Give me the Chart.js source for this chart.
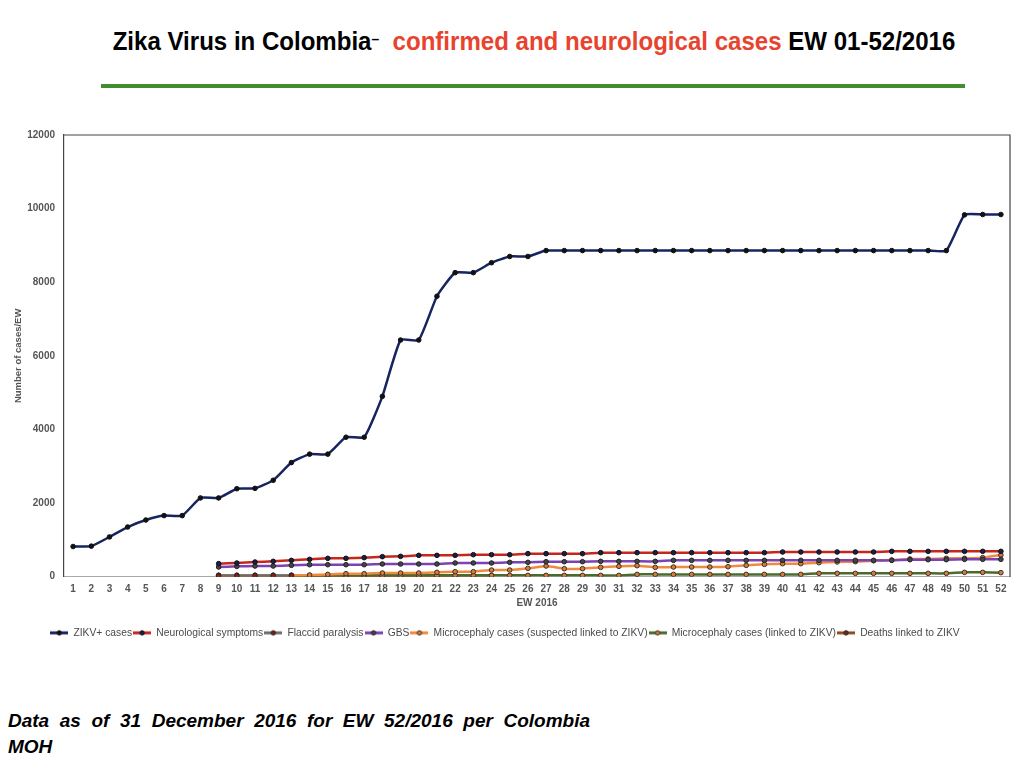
<!DOCTYPE html>
<html>
<head>
<meta charset="utf-8">
<script src="https://cdn.jsdelivr.net/npm/chart.js@4.4.1/dist/chart.umd.min.js"></script>
<style>
  body { margin: 0; background: #fff; width: 1024px; height: 768px; position: relative; overflow: hidden; font-family: "Liberation Sans", Arial, sans-serif; }
  #title { position: absolute; top: 26px; left: 0; width: 1068px; text-align: center; font-weight: bold; font-size: 26px; color: #000; transform: scaleX(0.925); transform-origin: 534px 0; white-space: nowrap; }
  #title .red { color: #e8432e; }
  #rule { position: absolute; top: 84px; left: 101px; width: 864px; height: 4px; background: #3f8f2f; }
  #box { position: absolute; top: 120px; left: 0; width: 1024px; height: 530px; }
  #note { position: absolute; top: 708px; left: 8px; width: 582px; font-weight: bold; font-style: italic; font-size: 19px; line-height: 26px; color: #000; }
  #note .l1 { text-align: justify; text-align-last: justify; }
</style>
</head>
<body>
<div id="title">Zika Virus in Colombia<span style="font-size:15px;vertical-align:6px">&#8211;</span>&nbsp; <span class="red">confirmed and neurological cases</span> EW 01-52/2016</div>
<div id="rule"></div>
<div id="box"><canvas id="zikaGrafico"></canvas></div>
<div id="note"><div class="l1">Data as of 31 December 2016 for EW 52/2016 per Colombia</div><div>MOH</div></div>
<script>
// SEMANAS EPIDEMIOLOGICAS
const semanas = ['1','2','3','4','5','6','7','8','9','10','11','12','13','14','15','16','17','18','19','20',
    '21','22','23','24','25','26','27','28','29','30','31','32','33','34','35','36','37','38','39','40',
    '41','42','43','44','45','46','47','48','49','50','51','52'];

const yTicks = [0, 2000, 4000, 6000, 8000, 10000, 12000];

const zikvCasos = [820, 830, 1080, 1350, 1540, 1660, 1660, 2140, 2140, 2390, 2400, 2620, 3100, 3330, 3330, 3790, 3790, 4900, 6430, 6430,
    7620, 8260, 8260, 8530, 8700, 8700, 8860, 8860, 8860, 8860, 8860, 8860, 8860, 8860, 8860, 8860, 8860, 8860, 8860, 8860,
    8860, 8860, 8860, 8860, 8860, 8860, 8860, 8860, 8860, 9830, 9840, 9840];

const neuroSintomas = [null, null, null, null, null, null, null, null, 354, 372, 399, 417, 444, 471, 499, 499, 517, 544, 553, 580,
    580, 580, 598, 598, 598, 626, 626, 626, 626, 653, 653, 653, 653, 653, 653, 653, 653, 653, 653, 671,
    671, 671, 671, 671, 671, 689, 689, 689, 689, 689, 689, 689];

const paralisiaFlacida = [null, null, null, null, null, null, null, null, 30, 30, 32, 32, 35];

const gbs = [null, null, null, null, null, null, null, null, 263, 281, 290, 290, 308, 326, 326, 326, 326, 345, 345, 345,
    345, 372, 372, 372, 390, 390, 408, 408, 408, 417, 417, 417, 417, 444, 444, 444, 444, 444, 444, 444,
    444, 444, 444, 444, 444, 444, 462, 462, 462, 471, 471, 471];

const microSuspeita = [null, null, null, null, null, null, null, null, 40, 40, 40, 40, 40, 45, 63, 82, 82, 100, 100, 100,
    118, 136, 136, 181, 181, 227, 290, 218, 218, 254, 281, 299, 254, 263, 263, 263, 272, 308, 335, 354,
    354, 381, 399, 408, 435, 453, 481, 481, 499, 499, 517, 589];

const microConfirmada = [null, null, null, null, null, null, null, null, 36, 36, 36, 36, 36, 36, 36, 36, 36, 36, 36, 36,
    36, 36, 36, 36, 36, 36, 36, 36, 36, 36, 36, 63, 63, 63, 63, 63, 63, 63, 63, 63,
    63, 91, 91, 91, 91, 91, 91, 91, 91, 118, 118, 110];

const mortes = [null, null, null, null, null, null, null, null, 15, 15, 18, 18, 20, 20, 22, 22, 25, 25, 25, 28,
    28, 30, 30, 32];

const fonte = { family: 'Liberation Sans', size: 10, weight: 'bold' };

// amostra da legenda: linha + bolinha
function amostra(corLinha, corPonto, corBorda) {
    const c = document.createElement('canvas');
    c.width = 18; c.height = 8;
    const g = c.getContext('2d');
    g.strokeStyle = corLinha; g.lineWidth = 3;
    g.beginPath(); g.moveTo(0, 4); g.lineTo(18, 4); g.stroke();
    g.fillStyle = corPonto; g.strokeStyle = corBorda; g.lineWidth = 1;
    g.beginPath(); g.arc(9, 4, 2.2, 0, Math.PI * 2); g.fill(); g.stroke();
    return c;
}

function serie(label, data, cor, ponto, borda) {
    return {
        label: label,
        data: data,
        borderColor: cor,
        backgroundColor: cor,
        borderWidth: 2.5,
        pointRadius: 2.3,
        pointBackgroundColor: ponto,
        pointBorderColor: borda,
        pointBorderWidth: 1,
        tension: 0.15,
        amostra: amostra(cor, ponto, borda)
    };
}

const moldura = {
    id: 'moldura',
    beforeDatasetsDraw(chart) {
        const a = chart.chartArea, ctx = chart.ctx;
        ctx.save();
        ctx.strokeStyle = '#444';
        ctx.lineWidth = 1.2;
        ctx.beginPath();
        ctx.moveTo(a.left, a.top); ctx.lineTo(a.right, a.top); ctx.lineTo(a.right, a.bottom);
        ctx.stroke();
        ctx.restore();
    }
};

const zika_config = {
    type: 'line',
    data: {
        labels: semanas,
        datasets: [
            serie('ZIKV+ cases', zikvCasos, '#16245f', '#111', '#111'),
            serie('Neurological symptoms', neuroSintomas, '#c4271d', '#14204f', '#111'),
            serie('Flaccid paralysis', paralisiaFlacida, '#6d6d6d', '#8a1a12', '#222'),
            serie('GBS', gbs, '#7b42b4', '#444', '#222'),
            serie('Microcephaly cases (suspected linked to ZIKV)', microSuspeita, '#f08a3e', '#e07a30', '#333'),
            serie('Microcephaly cases (linked to ZIKV)', microConfirmada, '#4b6a2c', '#e07a30', '#333'),
            serie('Deaths linked to ZIKV', mortes, '#8a4a1e', '#7a2a10', '#222')
        ]
    },
    options: {
        responsive: true,
        maintainAspectRatio: false,
        animation: false,
        layout: { padding: { top: 13, right: 14, left: 0, bottom: 2 } },
        scales: {
            x: {
                offset: true,
                grid: { display: false, drawTicks: false },
                border: { color: '#aaa', width: 1 },
                ticks: { autoSkip: false, maxRotation: 0, padding: 7, color: '#555', font: fonte },
                title: { display: true, text: 'EW 2016', color: '#555', font: fonte, padding: { top: 3, bottom: 17 } },
                afterFit(s) { s.height = 50; }
            },
            y: {
                min: 0,
                max: 12000,
                afterBuildTicks(s) { s.ticks = yTicks.map(v => ({ value: v })); },
                grid: { display: false, drawTicks: false },
                border: { color: '#444', width: 1.2 },
                ticks: { padding: 9, color: '#555', font: fonte, callback: v => String(v) },
                title: { display: true, text: 'Number of cases/EW', color: '#555', font: { family: 'Liberation Sans', size: 9.5, weight: 'bold' }, padding: { top: 13, bottom: 0 } },
                afterFit(s) { s.width = 64; }
            }
        },
        plugins: {
            title: { display: false },
            tooltip: { enabled: false },
            legend: {
                position: 'bottom',
                labels: {
                    usePointStyle: true,
                    pointStyleWidth: 18,
                    padding: 1,
                    color: '#4a4a4a',
                    font: { family: 'Liberation Sans', size: 10.3 },
                    generateLabels(chart) {
                        const itens = Chart.defaults.plugins.legend.labels.generateLabels(chart);
                        itens.forEach((it, i) => { it.pointStyle = chart.data.datasets[i].amostra; });
                        return itens;
                    }
                }
            }
        }
    },
    plugins: [moldura]
};

const grafico_zika = new Chart(document.getElementById('zikaGrafico'), zika_config);
</script>
</body>
</html>
